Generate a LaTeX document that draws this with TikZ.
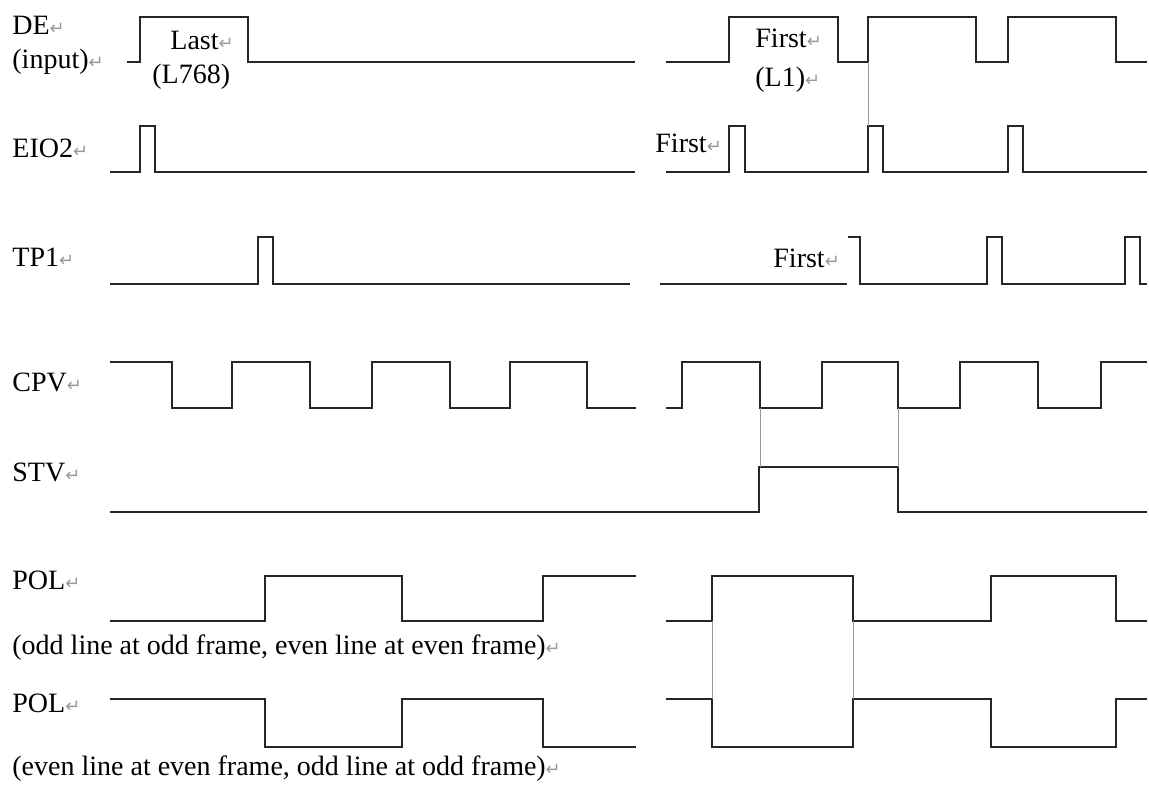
\documentclass[tikz,border=0pt]{standalone}
\usepackage{fontspec}
\setmainfont{Liberation Serif}
\newfontfamily\flechafont{DejaVu Sans}
\newcommand{\ret}{{\color{black!40}\flechafont\fontsize{9}{9}\selectfont ↵}}
\begin{document}
\begin{tikzpicture}[x=0.5pt,y=-0.5pt,
    senal/.style={line width=1pt,black!85},
    guia/.style={line width=0.5pt,black!40},
    etiq/.style={anchor=west,inner sep=0pt,font=\fontsize{14}{16}\selectfont}]
    \useasboundingbox (0,0) rectangle (1149,786);
    %DE:
     \begin{scope}
     %nombres ------------------
     \node[etiq] (de) at (12,25) {DE\ret};
     \node[etiq] (deinput) at (12,62) {(input)\ret};
     \node[etiq] (last) at (170,40) {Last\ret};
     \node[etiq] (l768) at (152,77) {(L768)};
     \node[etiq] (firstde) at (755,38) {First\ret};
     \node[etiq] (l1) at (755,80) {(L1)\ret};
     %forma de onda ------------
     \draw[senal] (127,62) -| (140,17) -| (248,62) -- (635,62);
     \draw[senal] (666,62) -| (729,17) -| (838,62) -| (868,17) -| (976,62) -| (1008,17) -| (1116,62) -- (1147,62);
     %---------------------------------- 
     \end{scope} 
    %EIO2:
     \begin{scope}
     \node[etiq] (eio2) at (12,148) {EIO2\ret};
     \node[etiq] (firsteio) at (655,143) {First\ret};
     \draw[senal] (110,172) -| (140,126) -| (155,172) -- (635,172);
     \draw[senal] (666,172) -| (729,126) -| (745,172) -| (868,126) -| (883,172) -| (1008,126) -| (1023,172) -- (1147,172);
     \draw[guia] (868,62) -- (868,126);
     %---------------------------------- 
     \end{scope} 
    %TP1:
     \begin{scope}
     \node[etiq] (tp1) at (12,257) {TP1\ret};
     \node[etiq] (firsttp) at (773,258) {First\ret};
     \draw[senal] (110,284) -| (258,237) -| (273,284) -- (630,284);
     \draw[senal] (660,284) -- (847,284);
     \draw[senal] (848,237) -| (860,284) -| (987,237) -| (1002,284) -| (1125,237) -| (1140,284) -- (1147,284);
     %---------------------------------- 
     \end{scope} 
    %CPV:
     \begin{scope}
     \node[etiq] (cpv) at (12,382) {CPV\ret};
     \draw[senal] (110,362) -| (172,408) -| (232,362) -| (310,408) -| (372,362) -| (450,408) -| (510,362) -| (587,408) -- (636,408);
     \draw[senal] (666,408) -| (682,362) -| (760,408) -| (822,362) -| (898,408) -| (960,362) -| (1038,408) -| (1101,362) -- (1147,362);
     %---------------------------------- 
     \end{scope} 
    %STV:
     \begin{scope}
     \node[etiq] (stv) at (12,472) {STV\ret};
     \draw[senal] (110,512) -| (759,467) -| (898,512) -- (1147,512);
     \draw[guia] (760,408) -- (760,467);
     \draw[guia] (898,408) -- (898,467);
     %---------------------------------- 
     \end{scope} 
    %POL (impar):
     \begin{scope}
     \node[etiq] (pola) at (12,580) {POL\ret};
     \node[etiq] (nota) at (12,648) {(odd line at odd frame, even line at even frame)\ret};
     \draw[senal] (110,621) -| (265,576) -| (402,621) -| (543,576) -- (636,576);
     \draw[senal] (666,621) -| (712,576) -| (853,621) -| (991,576) -| (1116,621) -- (1147,621);
     %---------------------------------- 
     \end{scope} 
    %POL (par):
     \begin{scope}
     \node[etiq] (polb) at (12,703) {POL\ret};
     \node[etiq] (notb) at (12,769) {(even line at even frame, odd line at odd frame)\ret};
     \draw[senal] (110,699) -| (265,747) -| (402,699) -| (543,747) -- (636,747);
     \draw[senal] (666,699) -| (712,747) -| (853,699) -| (991,747) -| (1116,699) -- (1147,699);
     \draw[guia] (712,621) -- (712,699);
     \draw[guia] (853,621) -- (853,699);
     %---------------------------------- 
     \end{scope} 
    \end{tikzpicture}
\end{document}
